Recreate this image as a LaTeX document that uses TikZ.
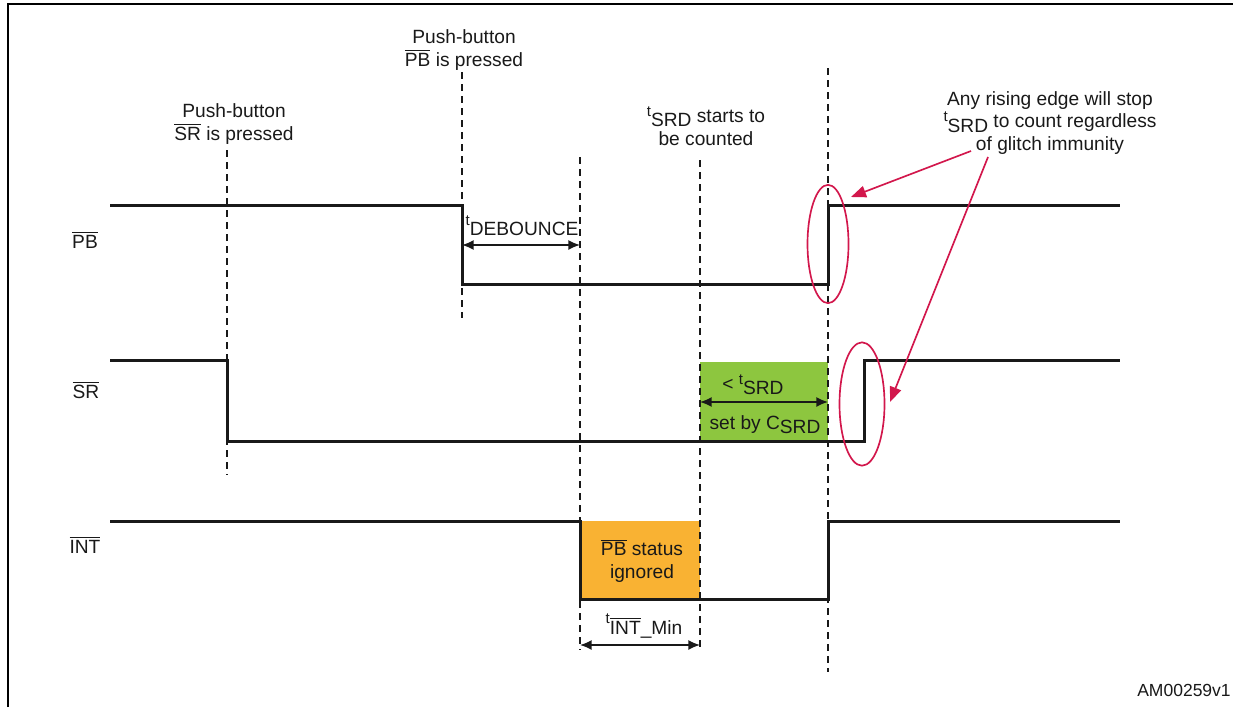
\documentclass[tikz,border=0pt]{standalone}
\usepackage{fontspec}
\setmainfont{Liberation Sans}
\usetikzlibrary{arrows.meta}

\definecolor{stred}{HTML}{D2174C}
\definecolor{stgreen}{HTML}{8DC63F}
\definecolor{storange}{HTML}{F9B233}

\newcommand\ovl[1]{$\overline{\mbox{#1}}$}
\newcommand\tsym[1]{\raisebox{0.6ex}{\fontsize{9}{9}\selectfont t}\raisebox{-0.4ex}{#1}}

\begin{document}
\begin{tikzpicture}[x=0.6pt,y=-0.6pt,
  every node/.style={font=\fontsize{11.5}{13.6}\selectfont, inner sep=1pt, text=black!90},
  txt/.style={align=center},
  wave/.style={line width=1.8pt, line join=miter, draw=black!90},
  marker/.style={line width=1.2pt, dash pattern=on 4.2pt off 3pt, draw=black!90},
  span/.style={{Latex[length=7pt,width=6pt]}-{Latex[length=7pt,width=6pt]}, line width=0.9pt, draw=black!90},
  hint/.style={draw=stred, line width=1pt},
  pointer/.style={hint, -{Triangle[length=9pt,width=7pt]}, fill=stred}]
 \useasboundingbox (0,0) rectangle (1233,707);
 % frame
 \draw[line width=1.3pt] (8,707) -- (8,4) -- (1233,4);
 %
 \fill[stgreen] (700,362) rectangle (828,441);
 \fill[storange] (580,521) rectangle (700,599);
 %
 \foreach \x/\ya/\yb in {227/150/475, 462/72/318, 580/157/650, 700/160/648, 828/68/672}
   \draw[marker] (\x,\ya) -- (\x,\yb);
 %
 \draw[wave] (110,205) -- (462,205) -- (462,284) -- (828,284) -- (828,205) -- (1120,205);
 \draw[wave] (110,360) -- (227,360) -- (227,441) -- (864,441) -- (864,360) -- (1120,360);
 \draw[wave] (110,521) -- (580,521) -- (580,599) -- (828,599) -- (828,521) -- (1120,521);
 %
 \node (PB) at (85,240) {\ovl{PB}};
 \node (SR) at (86,390) {\ovl{SR}};
 \node (INT) at (85,545) {\ovl{INT}};
 %
 \node[txt] (srpress) at (234,124) {Push-button\\\ovl{SR} is pressed};
 \node[txt] (pbpress) at (464,50) {Push-button\\\ovl{PB} is pressed};
 \node[txt] (count) at (706,126) {\tsym{SRD} starts to\\be counted};
 \node[txt] (note) at (1050,123) {Any rising edge will stop\\\tsym{SRD} to count regardless\\of glitch immunity};
 %
 \coordinate (db0) at (462,245);
 \coordinate (db1) at (580,245);
 \draw[span] (db0) -- (db1);
 \node (deb) at (522,226) {\tsym{DEBOUNCE}};
 %
 \coordinate (srd0) at (700,402);
 \coordinate (srd1) at (828,402);
 \draw[span] (srd0) -- (srd1);
 \node (lt) at (753,385) {< \tsym{SRD}};
 \node (cset) at (765,425) {set by C\raisebox{-0.4ex}{SRD}};
 %
 \node[txt] (ignored) at (642,561) {\ovl{PB} status\\ignored};
 \coordinate (im0) at (580,645);
 \coordinate (im1) at (700,645);
 \draw[span] (im0) -- (im1);
 \node (intmin) at (644,626) {\tsym{\ovl{INT}\_Min}};
 %
 \coordinate (e1) at (828,244);
 \coordinate (e2) at (862,404);
 \draw[hint] (e1) ellipse [x radius=12.3pt, y radius=35.5pt];
 \draw[hint] (e2) ellipse [x radius=13.5pt, y radius=37pt];
 \coordinate (p1) at (971,151);
 \coordinate (q1) at (851,197);
 \coordinate (p2) at (988,157);
 \coordinate (q2) at (890,402);
 \draw[pointer] (p1) -- (q1);
 \draw[pointer] (p2) -- (q2);
 %
 \node[font=\fontsize{10.5}{12}\selectfont] (code) at (1184,690) {AM00259v1};
\end{tikzpicture}
\end{document}
